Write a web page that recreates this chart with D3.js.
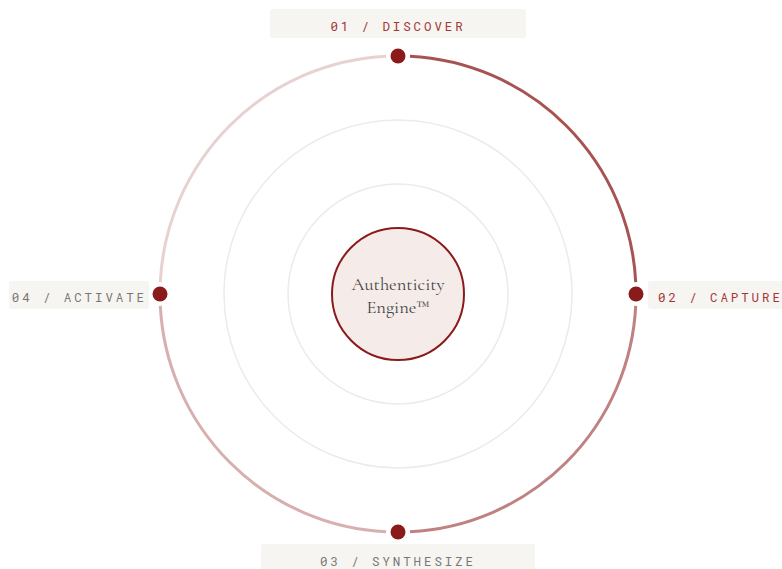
<!DOCTYPE html>
<html>
<head>
<meta charset="utf-8">
<script src="https://cdn.jsdelivr.net/npm/d3@7"></script>
<style>
  html, body { margin: 0; padding: 0; background: #ffffff; }
  svg { display: block; }
</style>
</head>
<body>
<svg id="chart" width="782" height="569"></svg>
<script>
// ---- data ----
const stageCodes = ["01", "02", "03", "04"];
const stageNames = ["DISCOVER", "CAPTURE", "SYNTHESIZE", "ACTIVATE"];
const stageAngles = [0, 90, 180, 270];          // degrees clockwise from top
const arcOpacity = [0.75, 0.55, 0.35, 0.2];      // arc from stage i to stage i+1
const stageActive = [true, true, false, false];
const ringLevels = [110, 174];                   // inner guide ring radii
const centerLines = ["Authenticity", "Engine\u2122"];

// ---- layout ----
const W = 782, H = 569;
const cx = 398, cy = 294;
const R = 238, coreR = 66;
const accent = "#8b1a1a";

const svg = d3.select("#chart");
const g = svg.append("g").attr("transform", `translate(${cx},${cy})`);

// guide rings
g.selectAll("circle.ring").data(ringLevels).join("circle")
  .attr("class", "ring")
  .attr("r", d => d)
  .attr("fill", "none")
  .attr("stroke", "#ebebeb")
  .attr("stroke-width", 1.5);

// outer arcs
const toRad = d3.scaleLinear().domain([0, 360]).range([0, 2 * Math.PI]);
const pad = 0.05;
const arcGen = d3.arc().innerRadius(R).outerRadius(R);
g.selectAll("path.seg").data(stageAngles).join("path")
  .attr("class", "seg")
  .attr("d", (d, i) => arcGen({ startAngle: toRad(d) + pad, endAngle: toRad(d + 90) - pad }))
  .attr("fill", "none")
  .attr("stroke", accent)
  .attr("stroke-opacity", (d, i) => arcOpacity[i])
  .attr("stroke-width", 3)
  .attr("stroke-linecap", "round");

// core
g.append("circle").attr("r", coreR).attr("fill", "#f5ecea")
  .attr("stroke", accent).attr("stroke-width", 2);
g.selectAll("text.core").data(centerLines).join("text")
  .attr("class", "core")
  .attr("text-anchor", "middle")
  .attr("x", 0)
  .attr("y", (d, i) => -4 + i * 23)
  .attr("font-family", "'Cormorant Garamond', 'Liberation Serif', 'DejaVu Serif', serif")
  .attr("font-size", 18.5)
  .attr("fill", "#444")
  .text(d => d);

// nodes
const pos = a => [R * Math.sin(toRad(a)), -R * Math.cos(toRad(a))];
g.selectAll("circle.node").data(stageAngles).join("circle")
  .attr("class", "node")
  .attr("cx", d => pos(d)[0])
  .attr("cy", d => pos(d)[1])
  .attr("r", 7.5)
  .attr("fill", accent);

// labels
const labelBox = [
  { x: 270 - cx, y: 9 - cy, w: 256, h: 29, tx: 0, ty: 30.5 - cy, anchor: "middle" },
  { x: 648 - cx, y: 281 - cy, w: 160, h: 28, tx: 658 - cx, ty: 301.5 - cy, anchor: "start" },
  { x: 261 - cx, y: 544 - cy, w: 274, h: 30, tx: 0, ty: 565.5 - cy, anchor: "middle" },
  { x: 9 - cx, y: 281 - cy, w: 140, h: 28, tx: 147 - cx, ty: 301.5 - cy, anchor: "end" }
];
const lab = g.selectAll("g.label").data(stageAngles).join("g").attr("class", "label");
lab.append("rect")
  .attr("x", (d, i) => labelBox[i].x)
  .attr("y", (d, i) => labelBox[i].y)
  .attr("width", (d, i) => labelBox[i].w)
  .attr("height", (d, i) => labelBox[i].h)
  .attr("rx", 3)
  .attr("fill", "#f7f5f1");
lab.append("text")
  .attr("x", (d, i) => labelBox[i].tx)
  .attr("y", (d, i) => labelBox[i].ty)
  .attr("text-anchor", (d, i) => labelBox[i].anchor)
  .attr("font-family", "'Roboto Mono', 'DejaVu Sans Mono', 'Liberation Mono', monospace")
  .attr("font-size", 12.5)
  .attr("letter-spacing", "2.9px")
  .attr("fill", (d, i) => stageActive[i] ? "#a33636" : "#777777")
  .text((d, i) => `${stageCodes[i]} / ${stageNames[i]}`);
</script>
</body>
</html>
